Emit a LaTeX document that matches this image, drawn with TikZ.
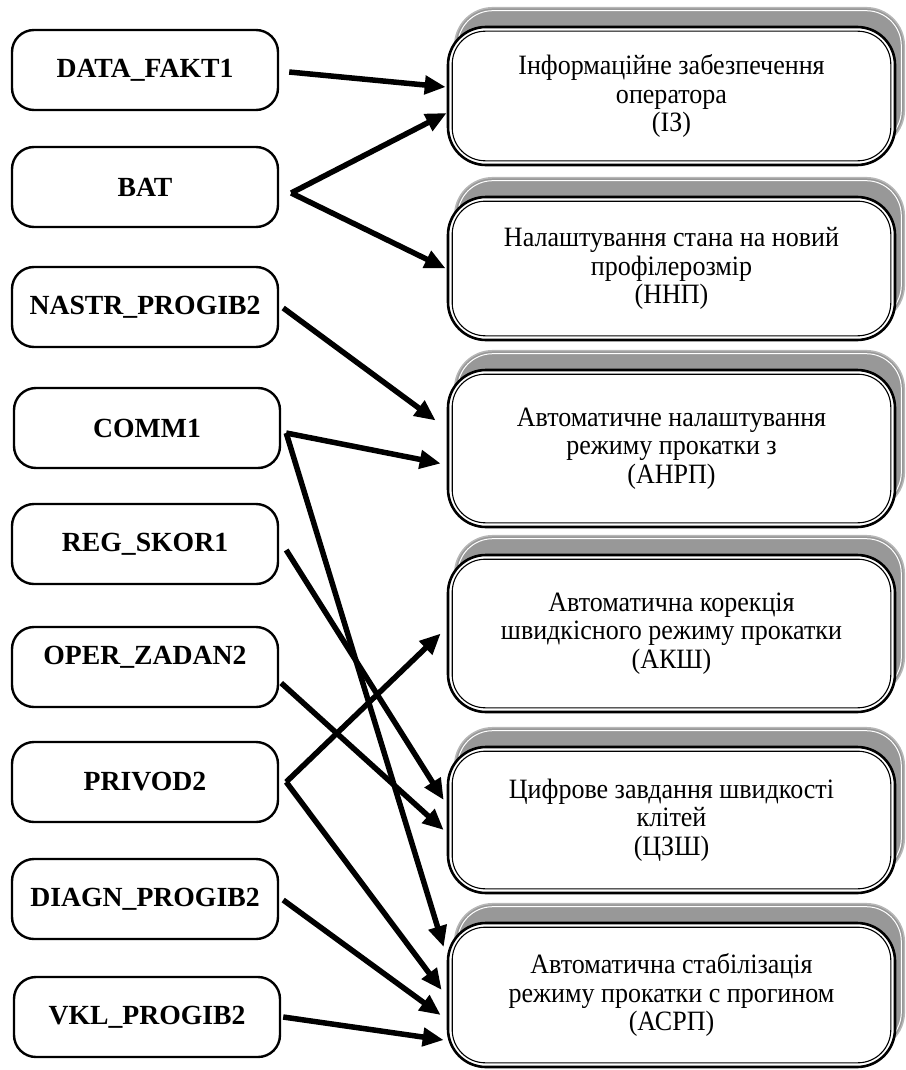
\documentclass[tikz,border=0pt]{standalone}
\usepackage{fontspec}
\setmainfont{Liberation Serif}
\newfontfamily\tallserif[FakeStretch=0.93]{Liberation Serif}
\usetikzlibrary{arrows.meta,calc,backgrounds}
\definecolor{shadowgray}{RGB}{152,152,152}
\begin{document}
\begin{tikzpicture}[x=1pt,y=-1pt,
  inbox/.style={draw, line width=2.4pt, rounded corners=22pt, minimum width=266pt,
    minimum height=80pt, font=\fontsize{27.7}{28}\selectfont\bfseries, inner sep=0pt},
  outbox/.style={draw, fill=white, line width=2.6pt, rounded corners=38pt,
    minimum width=447pt, font=\tallserif\fontsize{28}{28.5}\selectfont, align=center, inner sep=0pt},
  conn/.style={line width=5.5pt, -{Triangle[length=21pt,width=18pt]}},
]
\useasboundingbox (0,0) rectangle (905,1070);

% left boxes
\node[inbox] (dat)  at (145,70)   {DATA\_FAKT1};
\node[inbox] (bat)  at (145,187)  {BAT};
\node[inbox] (nas)  at (145,307)  {NASTR\_PROGIB2};
\node[inbox] (com)  at (147,428)  {COMM1};
\node[inbox] (reg)  at (145,544)  {REG\_SKOR1};
\node[inbox, text depth=24pt] (opr)  at (145,667)  {OPER\_ZADAN2};
\node[inbox] (pri)  at (145,782)  {PRIVOD2};
\node[inbox] (dia)  at (145,899)  {DIAGN\_PROGIB2};
\node[inbox] (vkl)  at (147,1017) {VKL\_PROGIB2};

% right boxes
\node[outbox, minimum height=138pt] (iz)   at (671.5,96)    {Інформаційне забезпечення\\оператора\\(ІЗ)};
\node[outbox, minimum height=143pt] (nnp)  at (671.5,268.5) {Налаштування стана на новий\\профілерозмір\\(ННП)};
\node[outbox, minimum height=157pt] (anrp) at (671.5,448.5) {Автоматичне налаштування\\режиму прокатки з\\(АНРП)};
\node[outbox, minimum height=157pt] (aksh) at (671.5,633.5) {Автоматична корекція\\швидкісного режиму прокатки\\(АКШ)};
\node[outbox, minimum height=146pt] (tsz)  at (671.5,820)   {Цифрове завдання швидкості\\клітей\\(ЦЗШ)};
\node[outbox, minimum height=144pt] (asrp) at (671.5,995)   {Автоматична стабілізація\\режиму прокатки с прогином\\(АСРП)};

\begin{scope}[on background layer]
\foreach \n in {iz,nnp,anrp,aksh,tsz,asrp} {
  \draw[shadowgray!70, fill=shadowgray, line width=1.5pt, rounded corners=38pt]
    ($(\n.north west)+(8,-18)$) rectangle ($(\n.south east)+(8,-18)$);
  \draw[white, line width=1pt, rounded corners=35pt]
    ($(\n.north west)+(11,-15)$) rectangle ($(\n.south east)+(5,-21)$);
}
\end{scope}
\foreach \n in {iz,nnp,anrp,aksh,tsz,asrp} {
  \draw[line width=1.1pt, rounded corners=33pt]
    ($(\n.north west)+(5.5,5.5)$) rectangle ($(\n.south east)+(-5.5,-5.5)$);
}

% connectors
\draw[conn] ($(dat.east)+(10,2)$)  -- ($(iz.west)+(-1,-9)$);
\draw[conn] ($(bat.east)+(12,6)$)  -- ($(iz.west)+(0,17)$);
\draw[conn] ($(bat.east)+(12,6)$)  -- ($(nnp.west)+(-1,0)$);
\draw[conn] ($(nas.east)+(4,1)$)   -- ($(anrp.west)+(-11,-28)$);
\draw[conn] ($(com.east)+(5,5)$)   -- ($(anrp.west)+(-6,15)$);
\draw[conn] ($(com.east)+(5,5)$)   -- ($(asrp.west)+(-3,-48)$);
\draw[conn] ($(reg.east)+(7,6)$)   -- ($(tsz.west)+(-3,-20)$);
\draw[conn] ($(opr.east)+(2,16)$)  -- ($(tsz.west)+(-3,10)$);
\draw[conn] ($(pri.east)+(7,0)$)   -- ($(aksh.west)+(-6,0)$);
\draw[conn] ($(pri.east)+(7,0)$)   -- ($(asrp.west)+(-5,-5)$);
\draw[conn] ($(dia.east)+(4,1)$)   -- ($(asrp.west)+(-6,20)$);
\draw[conn] ($(vkl.east)+(2,0)$)   -- ($(asrp.west)+(-3,45)$);
\end{tikzpicture}
\end{document}
